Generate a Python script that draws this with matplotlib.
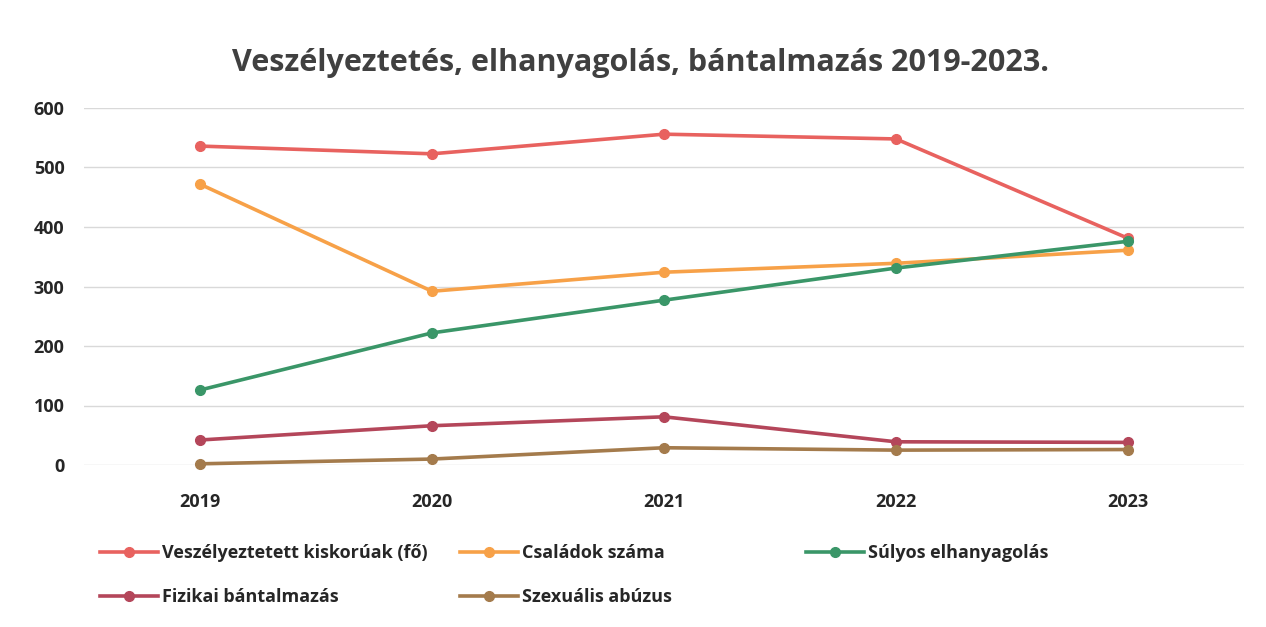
import matplotlib.pyplot as plt

years = ['2019', '2020', '2021', '2022', '2023']
veszelyeztetett = [536, 523, 556, 548, 381]
csaladok = [472, 292, 324, 339, 361]
sulyos = [126, 222, 277, 331, 376]
fizikai = [42, 66, 81, 39, 38]
szexualis = [2, 10, 29, 25, 26]

names = ['Veszélyeztetett kiskorúak (fő)', 'Családok száma', 'Súlyos elhanyagolás',
         'Fizikai bántalmazás', 'Szexuális abúzus']
colors = ['#E8625F', '#F7A148', '#3A9668', '#B4465A', '#A47B4C']
series = [veszelyeztetett, csaladok, sulyos, fizikai, szexualis]

plt.rcParams['font.family'] = ['Open Sans', 'DejaVu Sans']

fig = plt.figure(figsize=(12.66, 6.27), dpi=100)
ax = fig.add_axes([84/1266, 1-465/627, 1160/1266, 357/627])

x = range(len(years))
lines = []
for vals, name, c in zip(series, names, colors):
    l, = ax.plot(x, vals, color=c, lw=2.6, marker='o', ms=7, label=name, clip_on=False, zorder=3)
    lines.append(l)

ax.set_xlim(-0.5, 4.5)
ax.set_ylim(0, 600)
ax.set_yticks(range(0, 601, 100))
ax.set_xticks(list(x))
ax.set_xticklabels(years)
ax.grid(axis='y', color='#D9D9D9', lw=1)
ax.set_axisbelow(True)
for s in ax.spines.values():
    s.set_visible(False)
ax.tick_params(length=0, labelsize=13, labelcolor='#262626')
ax.tick_params(axis='y', pad=14)
ax.tick_params(axis='x', pad=20)
for t in ax.get_xticklabels() + ax.get_yticklabels():
    t.set_fontweight('bold')

fig.text(0.506, 0.9, 'Veszélyeztetés, elhanyagolás, bántalmazás 2019-2023.',
         ha='center', va='center', fontsize=22, fontweight='bold', color='#404040')

# legend: one column per legend so columns sit like in the original
cols = [[0, 3], [1, 4], [2]]
xs = [84, 444, 790]
for idx, x0 in zip(cols, xs):
    leg = fig.legend([lines[i] for i in idx], [names[i] for i in idx],
                     loc='upper left', bbox_to_anchor=(x0/1266, 1-528/627), frameon=False,
                     prop={'weight': 'bold', 'size': 13}, handlelength=3.2,
                     labelspacing=1.45, handletextpad=0.2)
    for t in leg.get_texts():
        t.set_color('#262626')

fig.savefig('out.png', dpi=100, facecolor='white')
